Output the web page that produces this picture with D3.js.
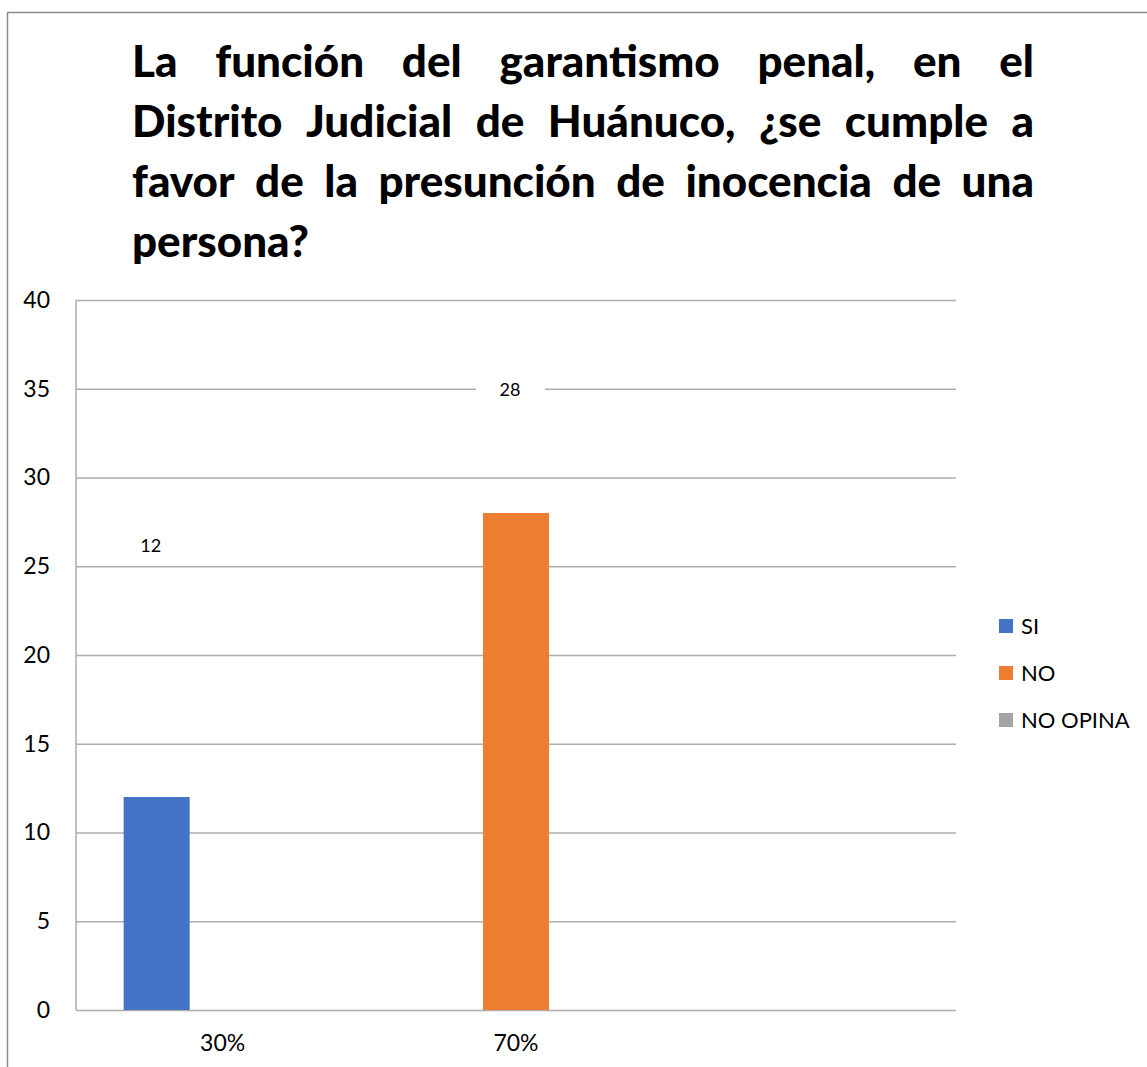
<!DOCTYPE html>
<html>
<head>
<meta charset="utf-8">
<script src="https://cdn.jsdelivr.net/npm/d3@7"></script>
<style>
  body { margin: 0; background: #fff; }
  text { font-family: Lato, "Open Sans", sans-serif; }
</style>
</head>
<body>
<svg width="1147" height="1067"></svg>
<script>
const categories = ['30%', '70%', ''];
const seriesNames = ['SI', 'NO', 'NO OPINA'];
const siValues = [12, 0, 0];
const noValues = [0, 28, 0];
const noOpinaValues = [0, 0, 0];
const yTicks = [0, 5, 10, 15, 20, 25, 30, 35, 40];
const titleLines = [
  'La función del garantismo penal, en el',
  'Distrito Judicial de Huánuco, ¿se cumple a',
  'favor de la presunción de inocencia de una',
  'persona?'
];
const colors = ['#4472C4', '#ED7D31', '#A5A5A5'];

const svg = d3.select('svg');
const width = +svg.attr('width');
const height = +svg.attr('height');

// outer frame
svg.append('rect')
  .attr('x', 7.5).attr('y', 12.5)
  .attr('width', width + 10).attr('height', height + 10)
  .attr('fill', 'none')
  .attr('stroke', '#8c8c8c')
  .attr('stroke-width', 1.5);

// justified title
const titleLeft = 132, titleRight = 1034;
const titleG = svg.append('g');
titleLines.forEach((line, li) => {
  const words = line.split(' ');
  const baseline = 77 + li * 60;
  const nodes = words.map(w => titleG.append('text')
    .attr('y', baseline)
    .attr('font-size', 44)
    .attr('font-weight', 900)
    .attr('fill', '#000')
    .text(w));
  const widths = nodes.map(n => n.node().getComputedTextLength());
  const last = li === titleLines.length - 1;
  const total = d3.sum(widths);
  const gap = last || words.length < 2 ? 11 : (titleRight - titleLeft - total) / (words.length - 1);
  let x = titleLeft;
  nodes.forEach((n, i) => {
    n.attr('x', x);
    x += widths[i] + gap;
  });
});

const margin = { top: 300, right: 191, bottom: 57, left: 76 };
const innerWidth = width - margin.left - margin.right;
const innerHeight = height - margin.top - margin.bottom;

const g = svg.append('g')
  .attr('transform', `translate(${margin.left},${margin.top})`);

const xScale = d3.scaleBand()
  .domain(d3.range(categories.length))
  .range([0, innerWidth])
  .padding(0);

const xSub = d3.scaleBand()
  .domain(seriesNames)
  .range([0, xScale.bandwidth()])
  .paddingInner(0)
  .paddingOuter(0.722);

const yScale = d3.scaleLinear()
  .domain([0, 40])
  .range([innerHeight, 0]);

const yAxis = d3.axisLeft(yScale)
  .tickValues(yTicks)
  .tickSize(-innerWidth)
  .tickPadding(26);

const yAxisG = g.append('g').call(yAxis);
yAxisG.select('.domain').remove();
yAxisG.selectAll('.tick line')
  .attr('stroke', '#adadad')
  .attr('stroke-width', 1.5);
yAxisG.selectAll('.tick text')
  .attr('font-size', 23)
  .attr('fill', '#000')
  .attr('font-family', 'Lato, sans-serif');

// left axis line
g.append('line')
  .attr('x1', 0).attr('x2', 0)
  .attr('y1', 0).attr('y2', innerHeight)
  .attr('stroke', '#adadad')
  .attr('stroke-width', 1.5);

const xAxis = d3.axisBottom(xScale)
  .tickFormat(i => categories[i])
  .tickSize(0)
  .tickPadding(25);

const xAxisG = g.append('g')
  .attr('transform', `translate(0,${innerHeight})`)
  .call(xAxis);
xAxisG.select('.domain').remove();
xAxisG.selectAll('.tick text')
  .attr('font-size', 23)
  .attr('fill', '#000')
  .attr('font-family', 'Lato, sans-serif');

const seriesData = [siValues, noValues, noOpinaValues];
seriesNames.forEach((name, si) => {
  g.append('g')
    .selectAll('rect')
    .data(seriesData[si])
    .join('rect')
      .attr('x', (d, i) => xScale(i) + xSub(name))
      .attr('y', d => yScale(d))
      .attr('width', xSub.bandwidth())
      .attr('height', d => innerHeight - yScale(d))
      .attr('fill', colors[si]);
});

// data labels (placed above the bars as in the source)
const labels = [
  { series: 0, cat: 0, value: 12, rise: 245 },
  { series: 1, cat: 1, value: 28, rise: 117 }
];
labels.forEach(l => {
  const cx = xScale(l.cat) + xSub(seriesNames[l.series]) + xSub.bandwidth() / 2 - 6;
  const y = yScale(l.value) - l.rise;
  g.append('rect')
    .attr('x', cx - 34)
    .attr('y', y - 18)
    .attr('width', 69)
    .attr('height', 26)
    .attr('fill', '#fff');
  g.append('text')
    .attr('x', cx)
    .attr('y', y)
    .attr('text-anchor', 'middle')
    .attr('font-size', 18)
    .attr('fill', '#000')
    .text(l.value);
});

// legend
const legend = svg.append('g')
  .attr('transform', 'translate(999,626)');
seriesNames.forEach((name, i) => {
  const row = legend.append('g')
    .attr('transform', `translate(0,${i * 47})`);
  row.append('rect')
    .attr('x', 0).attr('y', -7)
    .attr('width', 14).attr('height', 14)
    .attr('fill', colors[i]);
  row.append('text')
    .attr('x', 22)
    .attr('y', 8)
    .attr('font-size', 22)
    .attr('fill', '#000')
    .text(name);
});
</script>
</body>
</html>
